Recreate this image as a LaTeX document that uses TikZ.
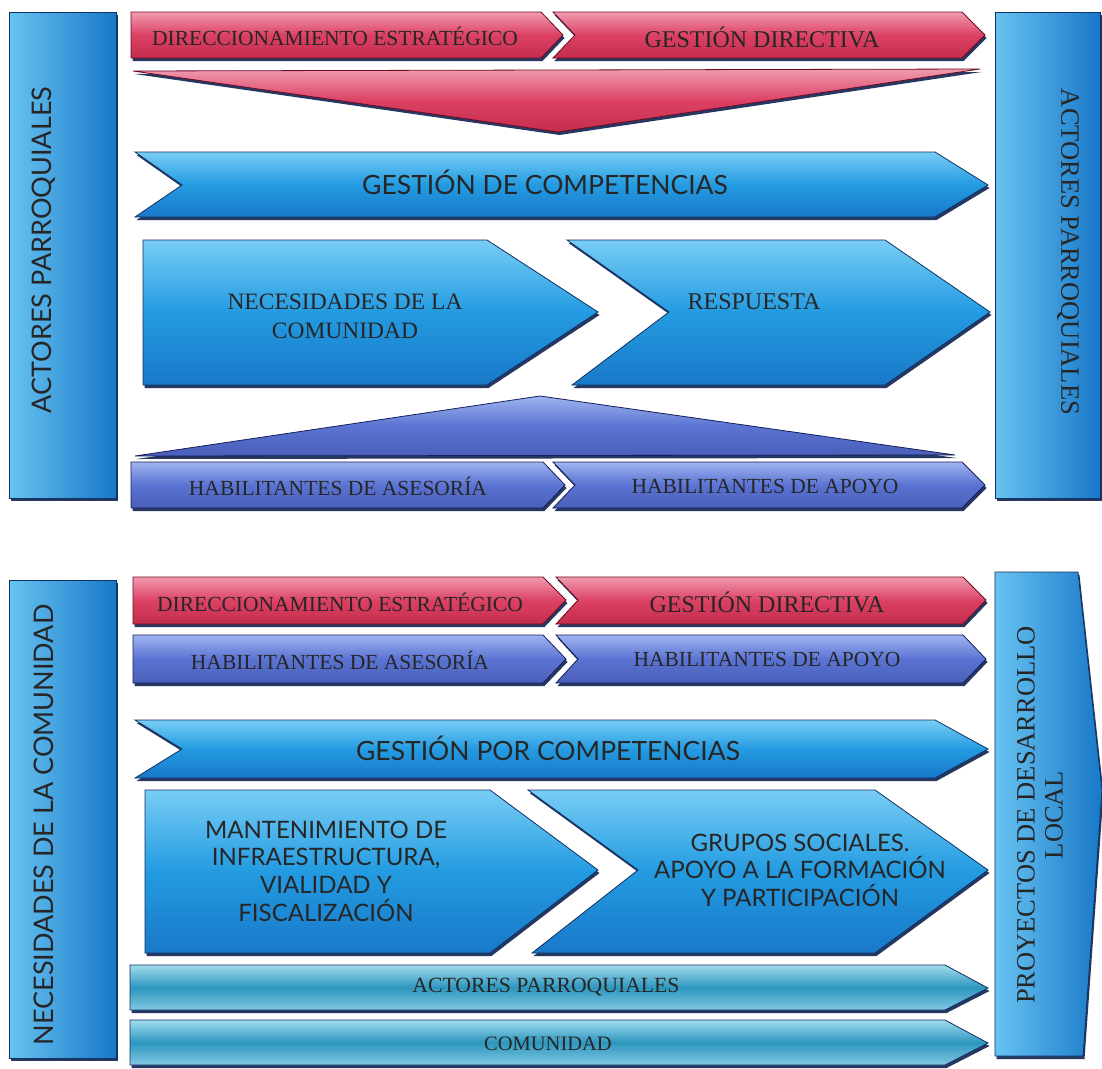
\documentclass[tikz,border=0pt]{standalone}
\usepackage{fontspec}
\setmainfont{Liberation Serif}
\newfontfamily\optfont{Lato}
\usetikzlibrary{shadows}
\definecolor{bTop}{RGB}{120,205,245}
\definecolor{bMid}{RGB}{35,155,225}
\definecolor{bBot}{RGB}{25,120,200}
\definecolor{bEdge}{RGB}{15,50,100}
\definecolor{rTop}{RGB}{240,155,175}
\definecolor{rMid}{RGB}{220,65,100}
\definecolor{rBot}{RGB}{195,45,75}
\definecolor{rEdge}{RGB}{110,10,35}
\definecolor{pTop}{RGB}{160,180,240}
\definecolor{pMid}{RGB}{90,115,210}
\definecolor{pBot}{RGB}{75,95,185}
\definecolor{pEdge}{RGB}{20,30,90}
\definecolor{tTop}{RGB}{160,220,238}
\definecolor{tMid}{RGB}{45,150,190}
\definecolor{tBot}{RGB}{130,200,225}
\definecolor{shd}{RGB}{15,35,80}
\newcommand\fsz[2]{\fontsize{#1}{#2}\selectfont}
\begin{document}
\begin{tikzpicture}[x=1pt,y=-1pt,
  shd/.style={drop shadow={shadow xshift=1.5pt,shadow yshift=-3pt,fill=shd,opacity=0.9}},
  bluef/.style={shd,top color=bTop,bottom color=bBot,middle color=bMid,draw=bEdge,line width=0.8pt},
  redf/.style={shd,top color=rTop,bottom color=rBot,middle color=rMid,draw=rEdge,line width=0.8pt},
  purf/.style={shd,top color=pTop,bottom color=pBot,middle color=pMid,draw=pEdge,line width=0.8pt},
  tealf/.style={shd,top color=tTop,bottom color=tBot,middle color=tMid,draw=bEdge,line width=0.8pt},
  barf/.style={shd,left color=bTop!80!bMid,right color=bBot,draw=bEdge,line width=0.8pt},
  lbl/.style={inner sep=0pt,align=center,text=black!85}]
\useasboundingbox[fill=white] (0,0) rectangle (1102,1068);

% ---------- top section ----------
\path[barf] (9,12) rectangle (116,498);
\path[barf] (995,12) rectangle (1100,498);
\path[redf] (131,12)--(541,12)--(563,35)--(541,58)--(131,58)--cycle;
\path[redf] (553,12)--(962,12)--(985,35)--(962,58)--(553,58)--(575,35)--cycle;
\path[redf] (133,71)--(980,69)--(558,132)--cycle;
\path[bluef] (135,152)--(935,152)--(988,185)--(935,217)--(135,217)--(182,185)--cycle;
\path[bluef] (143,240)--(487,240)--(598,312)--(487,385)--(143,385)--cycle;
\path[bluef] (567,240)--(885,240)--(990,312)--(885,385)--(572,385)--(669,312)--cycle;
\path[purf] (135,456)--(955,455)--(540,396)--cycle;
\path[purf] (131,462)--(543,462)--(565,485)--(543,508)--(131,508)--cycle;
\path[purf] (553,462)--(962,462)--(985,485)--(962,508)--(553,508)--(575,485)--cycle;

\node[lbl,rotate=90,font=\optfont\fsz{27}{30}] (ap1) at (44,250) {ACTORES PARROQUIALES};
\node[lbl,rotate=-90,font=\fsz{26.5}{30}] (ap2) at (1068,252) {ACTORES PARROQUIALES};
\node[lbl,font=\fsz{21.5}{24}] (de1) at (335,36) {DIRECCIONAMIENTO ESTRATÉGICO};
\node[lbl,font=\fsz{24}{26}] (gd1) at (762,37) {GESTIÓN DIRECTIVA};
\node[lbl,font=\optfont\fsz{26.5}{30}] (gc1) at (545,182) {GESTIÓN DE COMPETENCIAS};
\node[lbl,font=\fsz{23.5}{29}] (nc1) at (345,316) {NECESIDADES DE LA\\COMUNIDAD};
\node[lbl,font=\fsz{24}{26}] (re1) at (754,302) {RESPUESTA};
\node[lbl,font=\fsz{21.5}{24}] (ha1) at (338,486) {HABILITANTES DE ASESORÍA};
\node[lbl,font=\fsz{21.5}{24}] (hp1) at (765,486) {HABILITANTES DE APOYO};

% ---------- bottom section ----------
\path[barf] (9,580) rectangle (116,1058);
\path[barf] (995,572)--(1078,572)--(1102,790)--(1083,1056)--(995,1056)--cycle;
\path[redf] (133,577)--(543,577)--(566,600)--(543,624)--(133,624)--cycle;
\path[redf] (556,577)--(963,577)--(986,600)--(963,624)--(556,624)--(578,600)--cycle;
\path[purf] (133,635)--(543,635)--(566,659)--(543,683)--(133,683)--cycle;
\path[purf] (556,635)--(963,635)--(986,659)--(963,683)--(556,683)--(578,659)--cycle;
\path[bluef] (135,720)--(935,720)--(988,749)--(935,778)--(135,778)--(182,749)--cycle;
\path[bluef] (145,790)--(490,790)--(598,870)--(490,953)--(145,953)--cycle;
\path[bluef] (528,790)--(875,790)--(988,870)--(875,953)--(532,953)--(638,870)--cycle;
\path[tealf] (130,965)--(945,965)--(988,988)--(945,1010)--(130,1010)--cycle;
\path[tealf] (130,1020)--(945,1020)--(988,1043)--(945,1065)--(130,1065)--cycle;

\node[lbl,rotate=90,font=\optfont\fsz{27}{30}] (nc2) at (44,825) {NECESIDADES DE LA COMUNIDAD};
\node[lbl,rotate=90,font=\fsz{26.5}{28}] (pd) at (1040,815) {PROYECTOS DE DESARROLLO\\LOCAL};
\node[lbl,font=\fsz{21.5}{24}] (de2) at (340,602) {DIRECCIONAMIENTO ESTRATÉGICO};
\node[lbl,font=\fsz{24}{26}] (gd2) at (767,602) {GESTIÓN DIRECTIVA};
\node[lbl,font=\fsz{21.5}{24}] (ha2) at (340,660) {HABILITANTES DE ASESORÍA};
\node[lbl,font=\fsz{21.5}{24}] (hp2) at (767,659) {HABILITANTES DE APOYO};
\node[lbl,font=\optfont\fsz{26.5}{30}] (gc2) at (548,748) {GESTIÓN POR COMPETENCIAS};
\node[lbl,font=\optfont\fsz{24}{27.7}] (mi) at (326,871) {MANTENIMIENTO DE\\INFRAESTRUCTURA,\\VIALIDAD Y\\FISCALIZACIÓN};
\node[lbl,font=\optfont\fsz{24}{27.5}] (gs) at (800,870) {GRUPOS SOCIALES.\\APOYO A LA FORMACIÓN\\Y PARTICIPACIÓN};
\node[lbl,font=\fsz{21.7}{24}] (ap3) at (546,987) {ACTORES PARROQUIALES};
\node[lbl,font=\fsz{20.5}{24}] (co) at (548,1044) {COMUNIDAD};
\end{tikzpicture}
\end{document}
